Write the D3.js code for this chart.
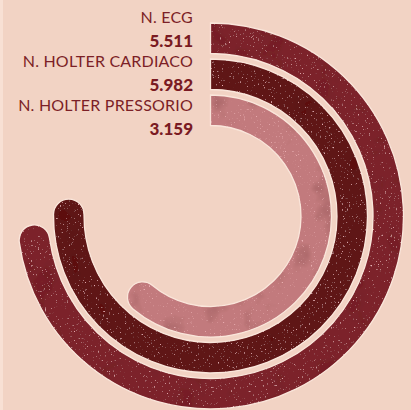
<!DOCTYPE html>
<html>
<head>
<meta charset="utf-8">
<script src="https://cdn.jsdelivr.net/npm/d3@7"></script>
<style>
  html, body { margin: 0; padding: 0; background: #f2d3c4; }
  svg { display: block; }
</style>
</head>
<body>
<script>
// valori del grafico
var labels = ["N. ECG", "N. HOLTER CARDIACO", "N. HOLTER PRESSORIO"];
var values = [5511, 5982, 3159];
var colors = ["#7c242b", "#5e1319", "#c27a7d"];

var width = 411, height = 410;
var cx = 210.5, cy = 216;
var band = 30.5, gap = 5.5, outerR = 193;

var it = d3.formatLocale({ decimal: ",", thousands: ".", grouping: [3], currency: ["€", ""] });
var fmt = it.format(",.0f");

// angolo di fine (gradi, da mezzogiorno in senso orario)
var angle = d3.scaleLinear().domain([3000, 6000]).range([217, 271]);

var svg = d3.select("body")
  .append("svg")
    .attr("width", width)
    .attr("height", height);

var defs = svg.append("defs");
var f = defs.append("filter")
    .attr("id", "tex")
    .attr("x", 0).attr("y", 0).attr("width", 1).attr("height", 1);
f.append("feTurbulence")
    .attr("type", "fractalNoise")
    .attr("baseFrequency", 0.035)
    .attr("numOctaves", 3)
    .attr("seed", 4)
    .attr("result", "cloud");
f.append("feColorMatrix")
    .attr("in", "cloud")
    .attr("type", "matrix")
    .attr("values", "0 0 0 0 0.1  0 0 0 0 0  0 0 0 0 0  1.1 0 0 0 -0.6")
    .attr("result", "dark");
f.append("feTurbulence")
    .attr("type", "fractalNoise")
    .attr("baseFrequency", 0.55)
    .attr("numOctaves", 2)
    .attr("seed", 9)
    .attr("result", "fine");
f.append("feColorMatrix")
    .attr("in", "fine")
    .attr("type", "matrix")
    .attr("values", "0 0 0 0 0.86  0 0 0 0 0.45  0 0 0 0 0.47  5 0 0 0 -3.4")
    .attr("result", "speck");
var m = f.append("feMerge").attr("result", "merged");
m.append("feMergeNode").attr("in", "SourceGraphic");
m.append("feMergeNode").attr("in", "dark");
m.append("feMergeNode").attr("in", "speck");
f.append("feComposite")
    .attr("in", "merged")
    .attr("in2", "SourceGraphic")
    .attr("operator", "in");

svg.append("rect")
    .attr("width", 3)
    .attr("height", height)
    .style("fill", "#f8e0d4");

function ringPath(ro, ri, deg) {
  var t = deg * Math.PI / 180 - Math.PI / 2;
  var rc = (ro + ri) / 2, hw = (ro - ri) / 2;
  var p = d3.path();
  p.moveTo(cx, cy - ro);
  p.arc(cx, cy, ro, -Math.PI / 2, t, false);
  p.arc(cx + rc * Math.cos(t), cy + rc * Math.sin(t), hw, t, t + Math.PI, false);
  p.arc(cx, cy, ri, t, -Math.PI / 2, true);
  p.closePath();
  return p.toString();
}

var rings = svg.selectAll("g.ring")
  .data(values)
  .enter().append("g")
    .attr("class", "ring");

rings.append("path")
    .attr("d", function(d, i) {
      var ro = outerR - i * (band + gap);
      return ringPath(ro, ro - band, angle(d));
    })
    .style("fill", function(d, i) { return colors[i]; })
    .attr("filter", "url(#tex)");

rings.append("path")
    .attr("d", function(d, i) {
      var ro = outerR - i * (band + gap);
      return ringPath(ro, ro - band, angle(d));
    })
    .style("fill", "none")
    .style("stroke", "#fae6db")
    .style("stroke-width", 1.3);

var legend = svg.append("g")
    .attr("transform", "translate(193,0)");

legend.selectAll("text.lab")
  .data(labels)
  .enter().append("text")
    .attr("class", "lab")
    .attr("y", function(d, i) { return 22.5 + i * 44; })
    .attr("text-anchor", "end")
    .style("font-family", "Lato, 'Open Sans', sans-serif")
    .style("font-size", "16px")
    .style("letter-spacing", "0.2px")
    .style("fill", "#7c1f27")
    .text(function(d) { return d; });

legend.selectAll("text.val")
  .data(values)
  .enter().append("text")
    .attr("class", "val")
    .attr("y", function(d, i) { return 46.5 + i * 44; })
    .attr("text-anchor", "end")
    .style("font-family", "Lato, 'Open Sans', sans-serif")
    .style("font-weight", "900")
    .style("font-size", "17px")
    .style("fill", "#7a1a22")
    .text(function(d) { return fmt(d); });
</script>
</body>
</html>
